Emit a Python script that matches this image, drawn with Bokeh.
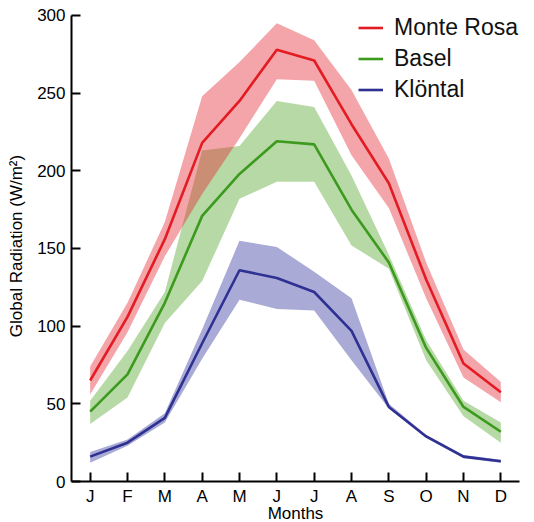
from bokeh.plotting import figure
from bokeh.models import Range1d, FixedTicker, Legend, LegendItem
from bokeh.embed import file_html
from bokeh.resources import INLINE

months = ["J", "F", "M", "A", "M", "J", "J", "A", "S", "O", "N", "D"]
month_index = [1, 2, 3, 4, 5, 6, 7, 8, 9, 10, 11, 12]

monte_rosa = [65, 106, 156, 218, 245, 278, 271, 230, 192, 130, 76, 57.5]
monte_rosa_upper = [74, 115, 167, 248, 270, 295, 284, 252, 208, 141, 85, 64]
monte_rosa_lower = [56, 96, 145, 185, 221, 259, 258, 210, 176, 118, 67, 51]

basel = [45, 69, 115, 171, 198, 219, 217, 175, 141, 86, 48, 32]
basel_upper = [52, 84, 122, 213, 216, 245, 241, 197, 146, 91, 52, 38]
basel_lower = [37, 54, 102, 129, 182, 193, 193, 152, 137, 78, 42, 25]

kloental = [16, 25, 41, 89, 136, 131, 122, 97, 48, 29, 16, 13]
kloental_upper = [19, 27, 44, 98, 155, 151, 135, 118, 50, 30, 17, 14]
kloental_lower = [12, 23, 38, 79, 117, 111, 110, 78, 47, 28, 15, 12]

y_ticks = [0, 50, 100, 150, 200, 250, 300]

FONT = "Liberation Sans"

p = figure(frame_width=448, frame_height=471, output_backend="svg", toolbar_location=None,
           x_range=Range1d(0.5, 12.5), y_range=Range1d(0, 303.2),
           min_border_left=71, min_border_right=15, min_border_top=10, min_border_bottom=41)
p.outline_line_color = None
p.xgrid.visible = False
p.ygrid.visible = False
p.background_fill_color = "white"
p.border_fill_color = "white"

# bands
p.varea(x=month_index, y1=basel_lower, y2=basel_upper, fill_color="#4ba020", fill_alpha=0.4)
p.varea(x=month_index, y1=monte_rosa_lower, y2=monte_rosa_upper, fill_color="#e41e28", fill_alpha=0.4)
p.varea(x=month_index, y1=kloental_lower, y2=kloental_upper, fill_color="#2b2b98", fill_alpha=0.4)

# lines
r_k = p.line(month_index, kloental, line_color="#2e3192", line_width=2.6)
r_b = p.line(month_index, basel, line_color="#3c9a1e", line_width=2.6)
r_m = p.line(month_index, monte_rosa, line_color="#e31b23", line_width=2.6)

legend = Legend(items=[LegendItem(label="Monte Rosa", renderers=[r_m]),
                       LegendItem(label="Basel", renderers=[r_b]),
                       LegendItem(label="Klöntal", renderers=[r_k])],
                location=(287, 376))
legend.background_fill_alpha = 0
legend.border_line_color = None
legend.padding = 0
legend.margin = 0
legend.spacing = 0
legend.glyph_width = 25
legend.glyph_height = 31
legend.label_height = 31
legend.label_standoff = 11
legend.label_text_font = FONT
legend.label_text_font_size = "23px"
legend.label_text_color = "#111111"
p.add_layout(legend, "center")

for ax in (p.xaxis[0], p.yaxis[0]):
    ax.axis_line_width = 2
    ax.axis_line_color = "black"
    ax.major_tick_line_width = 2
    ax.major_tick_line_color = "black"
    ax.major_tick_in = 9
    ax.major_tick_out = 0
    ax.minor_tick_line_color = None
    ax.major_label_text_font = FONT
    ax.major_label_text_font_size = "17px"
    ax.major_label_text_color = "black"
    ax.axis_label_text_font = FONT
    ax.axis_label_text_font_size = "17px"
    ax.axis_label_text_font_style = "normal"
    ax.axis_label_text_color = "black"

p.xaxis.ticker = FixedTicker(ticks=month_index)
p.xaxis.major_label_overrides = {m: lab for m, lab in zip(month_index, months)}
p.xaxis.major_label_standoff = 5
p.xaxis.major_label_text_line_height = 1.0
p.xaxis.axis_label = "Months"
p.xaxis.axis_label_standoff = -5
p.xaxis.axis_label_text_line_height = 1.0

p.yaxis.bounds = (0, 300)
p.yaxis.ticker = FixedTicker(ticks=y_ticks)
p.yaxis.axis_label = "Global Radiation (W/m²)"
p.yaxis.major_label_standoff = 6
p.yaxis.axis_label_standoff = 8

open("out.html", "w").write(file_html(p, INLINE))
